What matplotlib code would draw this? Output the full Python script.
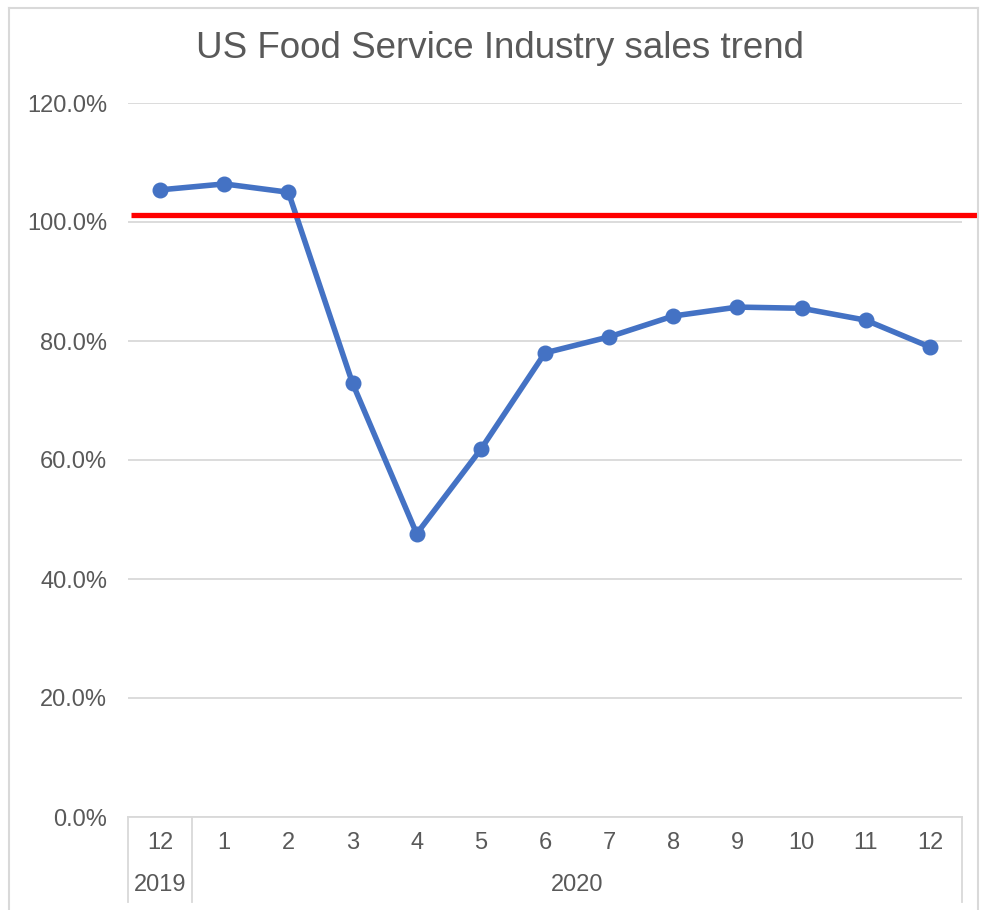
import matplotlib.pyplot as plt
from matplotlib.lines import Line2D
from matplotlib.ticker import PercentFormatter

months = ["12", "1", "2", "3", "4", "5", "6", "7", "8", "9", "10", "11", "12"]
years = ["2019", "2020"]
year_spans = [(0, 0), (1, 12)]
sales = [1.054, 1.064, 1.050, 0.729, 0.476, 0.618, 0.780, 0.807, 0.842, 0.857, 0.855, 0.835, 0.790]
baseline = 1.012

plt.rcParams['font.family'] = ['Liberation Sans', 'DejaVu Sans']
grey = '#595959'
fs = 17

fig = plt.figure(figsize=(9.81, 9.10), dpi=100)
W, H = 981, 910
ax = fig.add_axes([128 / W, (H - 817) / H, (962 - 128) / W, (817 - 103) / H])

x = list(range(len(months)))
ax.plot(x, sales, color='#4472C4', lw=4, marker='o', ms=10.5, zorder=3)

ax.set_xlim(-0.5, len(months) - 0.5)
ax.set_ylim(0, 1.2)
ax.set_yticks([0, 0.2, 0.4, 0.6, 0.8, 1.0, 1.2])
ax.yaxis.set_major_formatter(PercentFormatter(1.0, decimals=1))
ax.tick_params(axis='y', length=0, pad=15, labelsize=fs, labelcolor=grey)
ax.set_xticks([])
ax.grid(axis='y', color='#D9D9D9', lw=1.3)
ax.set_axisbelow(True)
for s in ['top', 'right', 'left']:
    ax.spines[s].set_visible(False)
ax.spines['bottom'].set_color('#D9D9D9')
ax.spines['bottom'].set_linewidth(1.3)

# reference line, runs past the plot area to the chart frame
ax.axhline(baseline, xmin=(131 - 128) / 834, xmax=(978 - 128) / 834,
           color='#FF0000', lw=3.8, solid_capstyle='butt', clip_on=False, zorder=4)

# two-level category axis
tr = ax.get_xaxis_transform()
bottom = -(902 - 817) / 714
for i, m in enumerate(months):
    ax.text(i, -(843 - 817) / 714, m, transform=tr, ha='center', va='center',
            fontsize=fs, color=grey)
for (a, b), y in zip(year_spans, years):
    ax.text((a + b) / 2, -(885 - 817) / 714, y, transform=tr, ha='center', va='center',
            fontsize=fs, color=grey)
for sep in [-0.5, 0.5, len(months) - 0.5]:
    ax.add_line(Line2D([sep, sep], [0, bottom], transform=tr, color='#D9D9D9',
                       lw=1.3, clip_on=False))

fig.text(500 / W, 1 - 48 / H, "US Food Service Industry sales trend", ha='center',
         va='center', fontsize=26.5, color=grey)

# chart frame
fc = '#D9D9D9'
fig.add_artist(Line2D([9 / W, 9 / W], [0, 1 - 8 / H], color=fc, lw=1.5))
fig.add_artist(Line2D([9 / W, 978 / W], [1 - 8 / H, 1 - 8 / H], color=fc, lw=1.5))
fig.add_artist(Line2D([978 / W, 978 / W], [0, 1 - 8 / H], color=fc, lw=1.5))

fig.savefig('out.png', dpi=100, facecolor='white')
